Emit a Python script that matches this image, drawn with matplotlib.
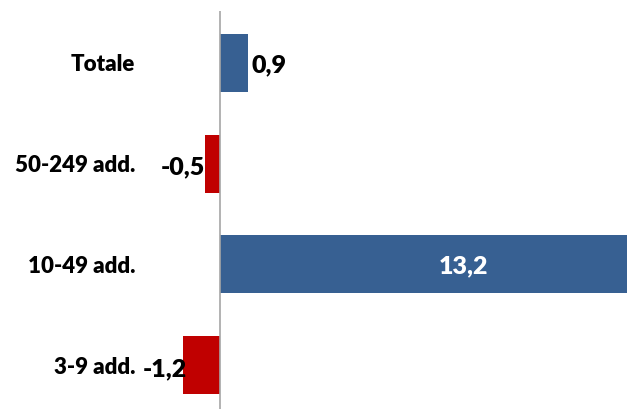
import matplotlib
matplotlib.use("Agg")
import matplotlib.pyplot as plt

# dati (dal basso verso l'alto nel grafico)
categorie = ["3-9 add.", "10-49 add.", "50-249 add.", "Totale"]
valori    = [-1.2, 13.2, -0.5, 0.9]
etichette = ["-1,2", "13,2", "-0,5", "0,9"]

BLU = "#376092"
ROSSO = "#C00000"
PX = 30.8            # px per unita' sull'asse x
PESO = 800
plt.rcParams["font.family"] = ["Lato", "DejaVu Sans"]

fig = plt.figure(figsize=(6.30, 4.09), dpi=100)
left = 145 / 630
ax = fig.add_axes([left, 0, 1 - left, 398 / 409])

y = list(range(len(categorie)))
colori = [BLU if v >= 0 else ROSSO for v in valori]
ax.barh(y, valori, height=0.575, color=colori, zorder=2)
ax.axvline(0, color="#a6a6a6", lw=1.2, zorder=3)

ax.set_xlim(-75 / PX, 410 / PX)
ax.set_ylim(-0.436, 3.515)

for yi, v, lab in zip(y, valori, etichette):
    if v > 5:
        ax.text(7.9, yi - 0.02, lab, ha="center", va="center", color="white",
                fontsize=18, fontweight=PESO, zorder=4)
    elif v >= 0:
        ax.annotate(lab, (v, yi - 0.02), xytext=(2.5, 0), textcoords="offset points",
                    ha="left", va="center", fontsize=18, fontweight=PESO, zorder=4)
    else:
        off = 0 if v > -1 else 3
        ax.annotate(lab, (v, yi - 0.04), xytext=(off, 0), textcoords="offset points",
                    ha="right", va="center", fontsize=18, fontweight=PESO, zorder=4)

ax.set_yticks(y)
ax.set_yticklabels(categorie, fontsize=16, fontweight=PESO)
ax.tick_params(axis="y", length=0, pad=7)
ax.set_xticks([])
for s in ax.spines.values():
    s.set_visible(False)

fig.savefig("out.png", dpi=100)
